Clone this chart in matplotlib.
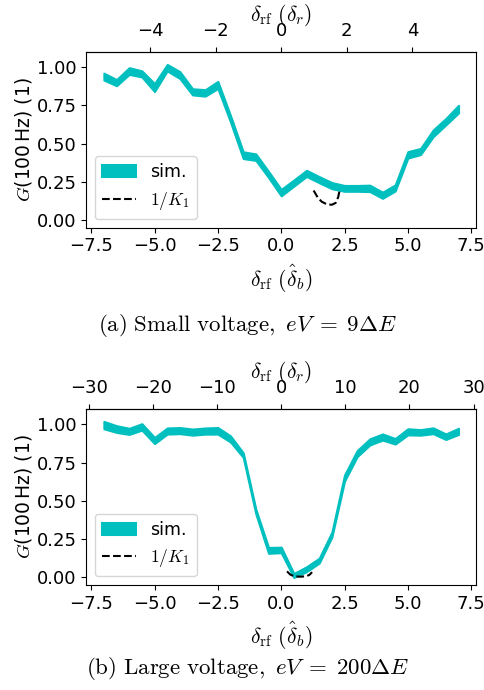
import numpy as np
import matplotlib
matplotlib.use("Agg")
import matplotlib.pyplot as plt

plt.rcParams["mathtext.fontset"] = "cm"
plt.rcParams["font.size"] = 13

# --- data: detuning grid (in units of delta_b hat) ---
x = [-7.0, -6.5, -6.0, -5.5, -5.0, -4.5, -4.0, -3.5, -3.0, -2.5, -2.0, -1.5, -1.0, -0.5,
     0.0, 0.5, 1.0, 1.5, 2.0, 2.5, 3.0, 3.5, 4.0, 4.5, 5.0, 5.5, 6.0, 6.5, 7.0]

# (a) small voltage, simulated band (lower / upper)
sim_a_lo = [0.915, 0.878, 0.952, 0.935, 0.840, 0.975, 0.925, 0.818, 0.810, 0.860, 0.640, 0.402, 0.390, 0.278,
            0.158, 0.222, 0.285, 0.244, 0.205, 0.188, 0.188, 0.186, 0.142, 0.190, 0.405, 0.428, 0.545, 0.622, 0.700]
sim_a_hi = [0.960, 0.918, 0.996, 0.975, 0.892, 1.017, 0.970, 0.858, 0.852, 0.906, 0.682, 0.446, 0.432, 0.318,
            0.200, 0.262, 0.325, 0.284, 0.245, 0.226, 0.226, 0.228, 0.182, 0.230, 0.447, 0.468, 0.589, 0.664, 0.750]

# (a) 1/K1 curve
k1_a_x = [1.28, 1.45, 1.6, 1.8, 2.0, 2.15, 2.25, 2.3]
k1_a_y = [0.193, 0.145, 0.120, 0.103, 0.100, 0.112, 0.150, 0.190]

# (b) large voltage, simulated band (lower / upper)
sim_b_lo = [0.972, 0.948, 0.935, 0.963, 0.875, 0.937, 0.940, 0.930, 0.937, 0.937, 0.885, 0.785, 0.415, 0.158,
            0.162, 0.000, 0.038, 0.094, 0.264, 0.630, 0.790, 0.866, 0.898, 0.872, 0.932, 0.930, 0.940, 0.902, 0.935]
sim_b_hi = [1.020, 0.992, 0.975, 1.005, 0.915, 0.977, 0.980, 0.970, 0.977, 0.980, 0.925, 0.815, 0.445, 0.196,
            0.198, 0.026, 0.070, 0.126, 0.296, 0.670, 0.830, 0.906, 0.938, 0.908, 0.972, 0.966, 0.978, 0.938, 0.975]

# (b) 1/K1 curve
k1_b_x = [0.23, 0.35, 0.5, 0.75, 1.0, 1.12, 1.22]
k1_b_y = [0.040, 0.020, 0.008, 0.005, 0.008, 0.018, 0.035]

# top axis = bottom axis * factor
scale_a = 1 / 1.295
scale_b = 3.95

fig = plt.figure(figsize=(4.84, 6.9), dpi=100)
ax_a = fig.add_axes([0.178, 0.670, 0.806, 0.255])
ax_b = fig.add_axes([0.178, 0.152, 0.806, 0.255])


def draw(ax, lo, hi, kx, ky, scale):
    ax.fill_between(x, lo, hi, color="c", lw=1.5, label="sim.")
    ax.plot(kx, ky, "k--", lw=1.5, label="$1/K_1$")
    ax.set_ylim(-0.05, 1.1)
    ax.set_yticks([0.0, 0.25, 0.5, 0.75, 1.0])
    ax.set_xlabel(r"$\delta_\mathrm{rf}\ (\hat{\delta}_b)$", fontsize=15.5, labelpad=5)
    ax.set_ylabel(r"$G$(100$\,$Hz) (1)", fontsize=13.5, labelpad=2)
    sec = ax.secondary_xaxis("top", functions=(lambda v: v * scale, lambda v: v / scale))
    sec.tick_params(pad=5)
    sec.set_xlabel(r"$\delta_\mathrm{rf}\ (\delta_r)$", fontsize=15.5, labelpad=1)
    ax.legend(loc="lower left", fontsize=12.5)


draw(ax_a, sim_a_lo, sim_a_hi, k1_a_x, k1_a_y, scale_a)
draw(ax_b, sim_b_lo, sim_b_hi, k1_b_x, k1_b_y, scale_b)

fig.text(0.512, 0.528, r"$\mathrm{(a)\ Small\ voltage,}\ eV\;=\;9\Delta E$", ha="center", va="center", fontsize=16.5)
fig.text(0.512, 0.031, r"$\mathrm{(b)\ Large\ voltage,}\ eV\;=\;200\Delta E$", ha="center", va="center", fontsize=16.5)

fig.savefig("out.png", dpi=100)
